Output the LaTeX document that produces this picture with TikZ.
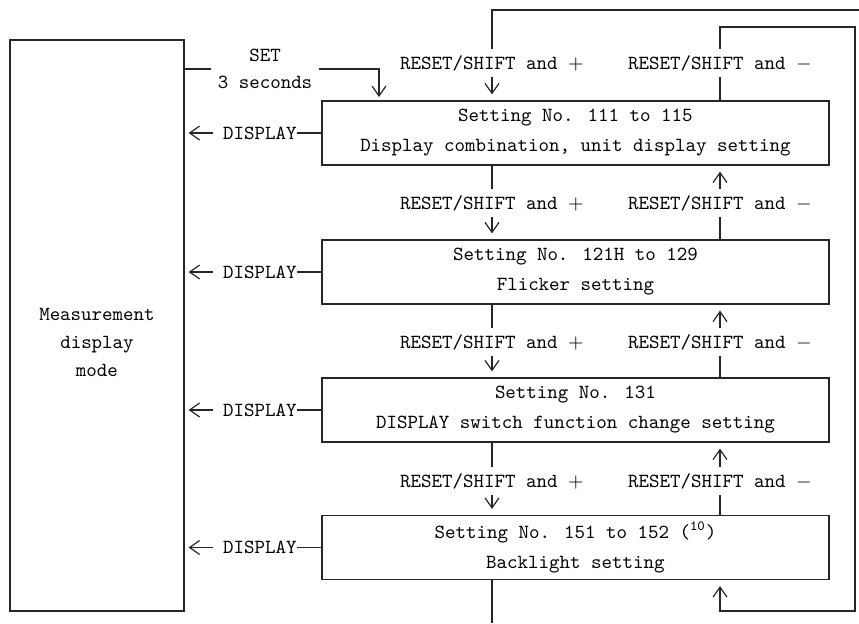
\documentclass[tikz,border=0pt]{standalone}
\usepackage{tikz}
\usetikzlibrary{arrows.meta}
\tikzstyle{flow}=[x=0.5pt, y=-0.5pt, line width=0.6pt, draw=black!85, font=\ttfamily, >={Straight Barb[length=5pt,width=7pt]}]
\tikzstyle{mode}=[rectangle, draw, minimum width=87pt, minimum height=285.5pt, inner sep=0pt]
\tikzstyle{setting}=[rectangle, draw, minimum width=253.5pt, minimum height=32pt, align=center, inner sep=0pt, font=\ttfamily\fontsize{10pt}{15pt}\selectfont]
\tikzstyle{key}=[inner sep=3pt, align=center, font=\ttfamily\fontsize{10pt}{13.5pt}\selectfont]
\tikzstyle{disp}=[inner sep=0pt]
\tikzstyle{edge}=[->, shorten >=2pt]
\tikzstyle{back}=[->, shorten >=2pt, shorten <=5pt]
\tikzstyle{down}=[->, shorten >=3pt]
\newcommand{\plusX}{492}
\newcommand{\minusX}{720}
\newcommand{\dispX}{260}
\newcommand{\boxX}{575.5}

\begin{document}
\begin{tikzpicture}[flow]
	\useasboundingbox (0,0) rectangle (859,623);
	%The measurement mode
	\node[mode] (meas) at (97,325.5) {};
	\node[key, font=\ttfamily\fontsize{10pt}{14pt}\selectfont] (measText) at (97,342) {Measurement\\display\\mode};
	
	%The setting boxes
	\node[setting] (s1) at (\boxX,133) {Setting No. 111 to 115\\Display combination, unit display setting};
	\node[setting] (s2) at (\boxX,272) {Setting No. 121H to 129\\Flicker setting};
	\node[setting] (s3) at (\boxX,410) {Setting No. 131\\DISPLAY switch function change setting};
	\node[setting] (s4) at (\boxX,547.5) {Setting No. 151 to 152 (\textsuperscript{10})\\Backlight setting};
	
	%The SET key
	\node[key] (set) at (265,69) {SET\\3 seconds};
	\coordinate (setIn) at (379,101);
	\draw (meas.east |- set) -- (set.west);
	\draw[edge] (set.east) -| (setIn);
	
	%The DISPLAY keys
	\node[disp] (d1) at (\dispX,133) {DISPLAY};
	\node[disp] (d2) at (\dispX,272) {DISPLAY};
	\node[disp] (d3) at (\dispX,410) {DISPLAY};
	\node[disp] (d4) at (\dispX,547.5) {DISPLAY};
	\draw (s1.west) -- (d1.east);
	\draw (s2.west) -- (d2.east);
	\draw (s3.west) -- (d3.east);
	\draw (s4.west) -- (d4.east);
	\draw[back] (d1.west) -- (meas.east |- d1);
	\draw[back] (d2.west) -- (meas.east |- d2);
	\draw[back] (d3.west) -- (meas.east |- d3);
	\draw[back] (d4.west) -- (meas.east |- d4);
	
	%The plus and minus keys
	\node[key] (p0) at (\plusX,63) {RESET/SHIFT and $+$};
	\node[key] (m0) at (\minusX,63) {RESET/SHIFT and $-$};
	\node[key] (p1) at (\plusX,203) {RESET/SHIFT and $+$};
	\node[key] (m1) at (\minusX,203) {RESET/SHIFT and $-$};
	\node[key] (p2) at (\plusX,342) {RESET/SHIFT and $+$};
	\node[key] (m2) at (\minusX,342) {RESET/SHIFT and $-$};
	\node[key] (p3) at (\plusX,481) {RESET/SHIFT and $+$};
	\node[key] (m3) at (\minusX,481) {RESET/SHIFT and $-$};
	
	%Going down
	\draw[down] (p0.south) -- (s1.north -| p0);
	\draw (s1.south -| p1) -- (p1.north);
	\draw[down] (p1.south) -- (s2.north -| p1);
	\draw (s2.south -| p2) -- (p2.north);
	\draw[down] (p2.south) -- (s3.north -| p2);
	\draw (s3.south -| p3) -- (p3.north);
	\draw[down] (p3.south) -- (s4.north -| p3);
	
	%Going up
	\draw (s2.north -| m1) -- (m1.south);
	\draw[down] (m1.north) -- (s1.south -| m1);
	\draw (s3.north -| m2) -- (m2.south);
	\draw[down] (m2.north) -- (s2.south -| m2);
	\draw (s4.north -| m3) -- (m3.south);
	\draw[down] (m3.north) -- (s3.south -| m3);
	
	%The wrap around
	\coordinate (topOut) at (859,10);
	\coordinate (bottomOut) at (\plusX,623);
	\coordinate (loopR) at (855,27);
	\coordinate (loopB) at (855,611);
	\draw (p0.north) |- (topOut);
	\draw (s4.south -| p3) -- (bottomOut);
	\draw (s1.north -| m0) -- (m0.south);
	\draw[down] (m0.north) |- (loopR) -- (loopB) -| (s4.south -| m0);
\end{tikzpicture}
\end{document}
